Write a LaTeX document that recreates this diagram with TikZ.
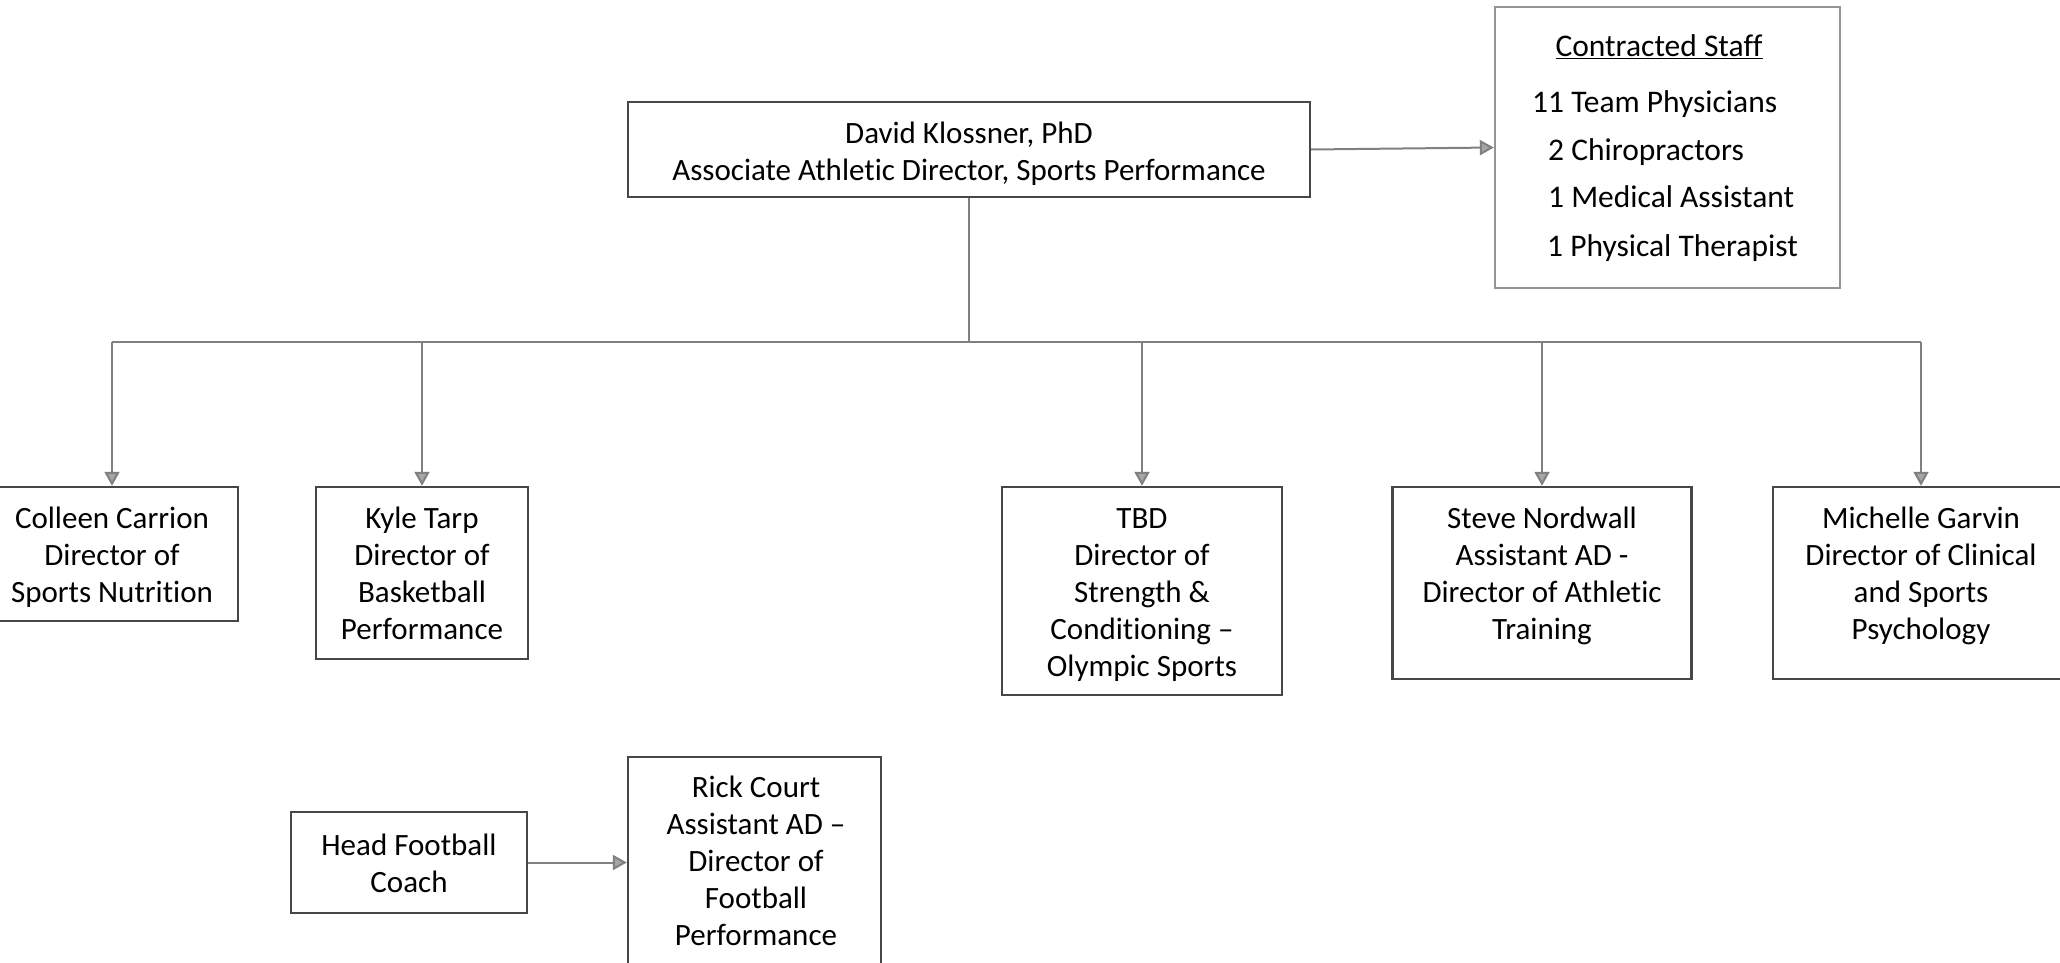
\documentclass[tikz,border=0pt]{standalone}
\usepackage{fontspec}
\setmainfont{Carlito}[Ligatures={TeX,NoCommon,NoContextual}]
\usetikzlibrary{arrows.meta}
\begin{document}
\begin{tikzpicture}[x=1pt,y=-1pt,
  box/.style={draw=black!72, line width=2.4pt, rectangle, inner sep=0pt},
  lightbox/.style={draw=black!42, line width=2.4pt, rectangle, inner sep=0pt},
  txt/.style={align=center, inner sep=0pt, font=\fontsize{31}{37}\selectfont},
  stafftxt/.style={inner sep=0pt, font=\fontsize{31.5}{37}\selectfont},
  conn/.style={draw=black!50, line width=2pt},
  arr/.style={conn, -{Triangle[width=15pt,length=14pt,fill=black!35]}}
]
\useasboundingbox (0,0) rectangle (2060,963);
\begin{scope}
\clip (0,0) rectangle (2060,963);
\fill[white] (0,0) rectangle (2060,963);

% head of sports performance
\node[box, minimum width=682, minimum height=95] (david) at (969,149.5) {};
\node[txt, anchor=north] (davidT) at (969,117) {\strut David Klossner, PhD\\Associate Athletic Director, Sports Performance};

% contracted staff list
\node[lightbox, minimum width=345, minimum height=281] (staff) at (1667.5,147.5) {};
\node[stafftxt, anchor=base] (staffT) at (1659,57) {\underline{Contracted Staff}};
\node[stafftxt, anchor=base west] (staff1) at (1532,113) {11 Team Physicians};
\node[stafftxt, anchor=base west] (staff2) at (1548,160) {2 Chiropractors};
\node[stafftxt, anchor=base west] (staff3) at (1548,207) {1 Medical Assistant};
\node[stafftxt, anchor=base west] (staff4) at (1547,256) {1 Physical Therapist};

% directors
\node[box, minimum width=252, minimum height=134] (colleen) at (112,554) {};
\node[txt, anchor=north] (colleenT) at (112,502) {\strut Colleen Carrion\\Director of\\Sports Nutrition};

\node[box, minimum width=212, minimum height=172] (kyle) at (422,573) {};
\node[txt, anchor=north] (kyleT) at (422,502) {\strut Kyle Tarp\\Director of\\Basketball\\Performance};

\node[box, minimum width=280, minimum height=208] (tbd) at (1142,591) {};
\node[txt, anchor=north] (tbdT) at (1142,502) {\strut TBD\\Director of\\Strength \&\\Conditioning --\\Olympic Sports};

\node[box, minimum width=299, minimum height=192] (steve) at (1542,583) {};
\node[txt, anchor=north] (steveT) at (1542,502) {\strut Steve Nordwall\\Assistant AD -\\Director of Athletic\\Training};

\node[box, minimum width=296, minimum height=192] (michelle) at (1921,583) {};
\node[txt, anchor=north] (michelleT) at (1921,502) {\strut Michelle Garvin\\Director of Clinical\\and Sports\\Psychology};

% football
\node[box, minimum width=236, minimum height=101] (head) at (409,862.5) {};
\node[txt, anchor=north] (headT) at (409,829) {\strut Head Football\\Coach};

\node[box, minimum width=253, minimum height=230] (rick) at (754.5,872) {};
\node[txt, anchor=north] (rickT) at (756,771) {\strut Rick Court\\Assistant AD --\\Director of\\Football\\Performance};

% connectors
\coordinate (bus) at (969,342);
\draw[conn] (david.south) -- (bus);
\draw[conn] (colleen.north |- bus) -- (michelle.north |- bus);
\draw[arr] (colleen.north |- bus) -- (colleen.north);
\draw[arr] (kyle.north |- bus) -- (kyle.north);
\draw[arr] (tbd.north |- bus) -- (tbd.north);
\draw[arr] (steve.north |- bus) -- (steve.north);
\draw[arr] (michelle.north |- bus) -- (michelle.north);
\draw[arr] (david.east) -- (staff.west);
\draw[arr] (head.east) -- (rick.west |- head.east);
\end{scope}
\end{tikzpicture}
\end{document}
